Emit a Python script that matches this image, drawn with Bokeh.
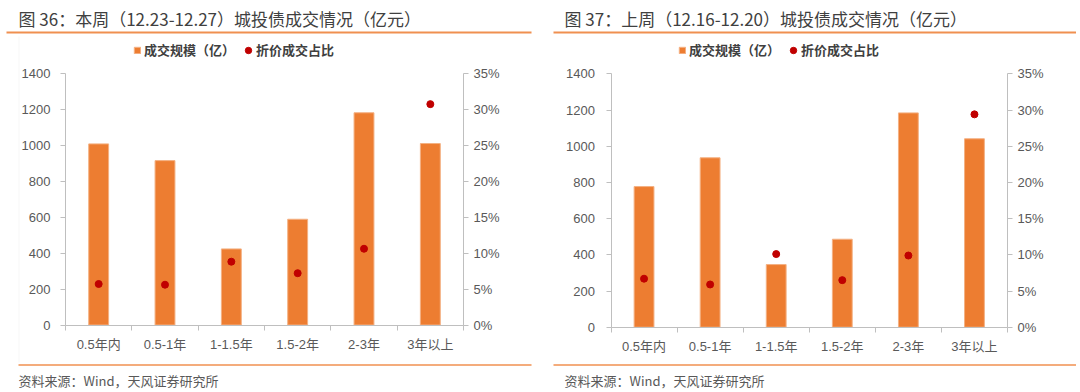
from bokeh.plotting import figure
from bokeh.models import (Range1d, LinearAxis, FixedTicker, NumeralTickFormatter,
                          Label, BoxAnnotation, Legend, LegendItem)
from bokeh.layouts import row
from bokeh.embed import file_html
from bokeh.resources import INLINE

# ---------------- data ----------------
categories = ["0.5年内", "0.5-1年", "1-1.5年", "1.5-2年", "2-3年", "3年以上"]

this_week_volume = [1007, 914, 423, 588, 1180, 1009]             # 成交规模（亿）
this_week_discount = [0.057, 0.056, 0.088, 0.072, 0.106, 0.307]  # 折价成交占比

last_week_volume = [777, 936, 346, 486, 1184, 1041]
last_week_discount = [0.067, 0.059, 0.101, 0.065, 0.099, 0.294]

titles = ["图 36：本周（12.23-12.27）城投债成交情况（亿元）",
          "图 37：上周（12.16-12.20）城投债成交情况（亿元）"]
legend_labels = ["成交规模（亿）", "折价成交占比"]
source_text = "资料来源：Wind，天风证券研究所"

left_ticks = [0, 200, 400, 600, 800, 1000, 1200, 1400]
right_ticks = [0, 0.05, 0.10, 0.15, 0.20, 0.25, 0.30, 0.35]
Y_MAX = 1400
P_MAX = 0.35

# ---------------- style ----------------
ORANGE = "#ED7D31"
RED = "#C00000"
TXT = "#595959"
TITLE_C = "#404040"
AXIS_C = "#bfbfbf"
FONT = "'Liberation Sans', 'Noto Sans CJK SC'"
CJK = "Noto Sans CJK SC"
H = 390


def make_panel(title, volume, discount, g):
    fx, W = g["fig_x"], g["fig_w"]
    xl, xr, yb, yt = g["ax_left"], g["ax_right"], g["y0"], g["ytop"]
    n = len(categories)
    ux = n / (xr - xl)
    uy = Y_MAX / (yb - yt)
    x_range = Range1d(-(xl - fx) * ux, n + (fx + W - xr) * ux)
    y_start = -(H - yb) * uy
    y_end = Y_MAX + yt * uy
    p = figure(width=W, height=H, min_border=0,
               x_range=x_range, y_range=Range1d(y_start, y_end),
               output_backend="svg", toolbar_location=None, tools="",
               x_axis_location=None, y_axis_location=None)
    p.outline_line_color = None
    p.xgrid.visible = False
    p.ygrid.visible = False
    p.background_fill_color = "white"
    p.border_fill_color = "white"
    p.extra_y_ranges = {"pct": Range1d(y_start * P_MAX / Y_MAX, y_end * P_MAX / Y_MAX)}

    xs = [i + 0.5 for i in range(n)]
    bars = p.vbar(x=xs, top=volume, width=0.3, fill_color=ORANGE,
                  line_color="#F4B183", line_width=1)
    dots = p.scatter(x=xs, y=discount, y_range_name="pct", size=7,
                     fill_color=RED, line_color=RED)

    def style(ax):
        ax.axis_line_color = AXIS_C
        ax.major_tick_line_color = AXIS_C
        ax.minor_tick_line_color = AXIS_C
        ax.major_label_text_color = TXT
        ax.major_label_text_font = FONT
        ax.major_label_text_font_size = "13px"

    xax = LinearAxis(ticker=FixedTicker(ticks=xs, minor_ticks=list(range(n + 1))),
                     fixed_location=0, bounds=(0, n))
    xax.major_label_overrides = {x: c for x, c in zip(xs, categories)}
    style(xax)
    xax.major_tick_out = 0
    xax.major_tick_in = 0
    xax.minor_tick_out = 5
    xax.minor_tick_in = 0
    xax.major_label_standoff = 7
    p.add_layout(xax, "below")

    yax = LinearAxis(ticker=FixedTicker(ticks=left_ticks), fixed_location=0,
                     bounds=(0, Y_MAX))
    style(yax)
    yax.major_tick_out = 5
    yax.major_tick_in = 0
    yax.minor_tick_line_color = None
    yax.major_label_standoff = g["ystand"]
    p.add_layout(yax, "left")

    rax = LinearAxis(y_range_name="pct", ticker=FixedTicker(ticks=right_ticks),
                     formatter=NumeralTickFormatter(format="0%"),
                     fixed_location=n, bounds=(0, P_MAX))
    style(rax)
    rax.major_tick_out = 5
    rax.major_tick_in = 0
    rax.minor_tick_line_color = None
    rax.major_label_standoff = 5
    p.add_layout(rax, "right")

    def sx(x):
        return x - fx

    def sy(y):
        return H - y

    def hline(x0, x1, y, th):
        p.add_layout(BoxAnnotation(left=sx(x0), right=sx(x1), top=sy(y - th / 2), bottom=sy(y + th / 2),
                                   left_units="screen", right_units="screen",
                                   top_units="screen", bottom_units="screen",
                                   fill_color=ORANGE, fill_alpha=0.85, line_color=None))

    p.add_layout(Label(x=sx(g["title_x"]), y=sy(18), x_units="screen", y_units="screen",
                       text=title, text_font=CJK, text_font_size="17px",
                       text_color=TITLE_C, text_baseline="middle", text_align="left"))
    hline(g["line_x0"], g["line_x1"], 32, 2)
    hline(g["bline_x0"], g["line_x1"], 364.5, 1.6)
    p.add_layout(Label(x=sx(g["title_x"]), y=sy(380), x_units="screen", y_units="screen",
                       text=source_text, text_font=CJK, text_font_size="13px",
                       text_color=TXT, text_baseline="middle", text_align="left"))
    if g.get("vline"):
        p.add_layout(BoxAnnotation(left=sx(18), right=sx(19), top=sy(36), bottom=sy(362),
                                   left_units="screen", right_units="screen",
                                   top_units="screen", bottom_units="screen",
                                   fill_color="#ececec", line_color=None))

    common = dict(orientation="horizontal", padding=0, margin=0,
                  label_text_font=CJK, label_text_font_size="13px",
                  label_text_font_style="bold", label_text_color=TITLE_C,
                  background_fill_alpha=0, border_line_color=None)
    leg1 = Legend(items=[LegendItem(label=legend_labels[0], renderers=[bars])],
                  location=(sx(g["legend_x"]), sy(59)),
                  glyph_width=8, glyph_height=8, label_standoff=3, **common)
    leg2 = Legend(items=[LegendItem(label=legend_labels[1], renderers=[dots])],
                  location=(sx(g["legend2_x"]), sy(59)),
                  glyph_width=16, glyph_height=16, label_standoff=0, **common)
    p.add_layout(leg1, "center")
    p.add_layout(leg2, "center")
    return p


g_left = dict(fig_x=0, fig_w=540, ax_left=65, ax_right=463, y0=324.5, ytop=72.7,
              title_x=18, line_x0=6, line_x1=531, bline_x0=18, legend_x=133,
              legend2_x=240, ystand=10, vline=True)
g_right = dict(fig_x=540, fig_w=536, ax_left=610.5, ax_right=1007, y0=326.7, ytop=73.3,
               title_x=564, line_x0=553, line_x1=1076, bline_x0=553, legend_x=678,
               legend2_x=785, ystand=11)

p1 = make_panel(titles[0], this_week_volume, this_week_discount, g_left)
p2 = make_panel(titles[1], last_week_volume, last_week_discount, g_right)

layout = row(p1, p2)
open("out.html", "w").write(file_html(layout, INLINE))
